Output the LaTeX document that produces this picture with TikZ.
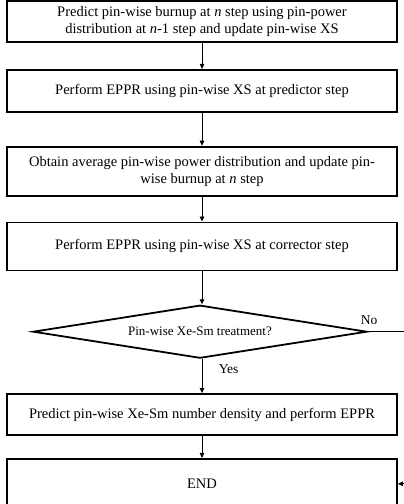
\documentclass[tikz,border=0pt]{standalone}
\usepackage{fontspec}
\setmainfont{Liberation Serif}
\usetikzlibrary{positioning,arrows.meta,shapes.geometric}

\begin{document}
\begin{tikzpicture}[
  font=\fontsize{14.5}{17}\selectfont,
  stepbox/.style={draw, line width=1.8pt, minimum width=390pt, inner sep=2pt, align=center},
  decide/.style={draw, diamond, line width=1.8pt, minimum width=334pt, minimum height=53pt, inner sep=0pt, aspect=6},
  arr/.style={-{Triangle[length=5pt, width=4.5pt]}, line width=0.9pt},
  lbl/.style={font=\fontsize{13.5}{15}\selectfont},
  node distance=26pt]
\useasboundingbox (0,0) rectangle (404pt,-504pt);
% main line
\node[stepbox, minimum height=41pt] (pred) at (202pt,-21.5pt)
  {Predict pin-wise burnup at \textit{n} step using pin-power\\distribution at \textit{n}-1 step and update pin-wise XS};
\node[stepbox, minimum height=42pt, below=26pt of pred] (eppr1) {Perform EPPR using pin-wise XS at predictor step};
\node[stepbox, minimum height=49pt, below=33pt of eppr1] (avg)
  {Obtain average pin-wise power distribution and update pin-\\wise burnup at \textit{n} step};
\node[stepbox, minimum height=48pt, below=25pt of avg] (eppr2) {Perform EPPR using pin-wise XS at corrector step};
\node[decide, below=33pt of eppr2, xshift=-2pt] (chk) {\fontsize{13}{15}\selectfont Pin-wise Xe-Sm treatment?};
\node[stepbox, minimum height=41pt, below=34pt of chk, xshift=2pt] (xesm) {Predict pin-wise Xe-Sm number density and perform EPPR};
\node[stepbox, minimum height=50pt, below=22pt of xesm] (end) {END};
% bypass
\path (chk.east) ++(41pt,0) coordinate (noturn);
\draw[arr] (pred) -- (eppr1);
\draw[arr] (eppr1) -- (avg);
\draw[arr] (avg) -- (eppr2);
\draw[arr] (eppr2) -- (eppr2 |- chk.north);
\draw[arr] (xesm |- chk.south) -- node[lbl, right=13pt, pos=0.3]{Yes} (xesm);
\draw[arr] (xesm) -- (end);
\draw[arr] (chk.east) -- node[lbl, above=3pt, pos=0.03]{No} (noturn) |- (end.east);
\end{tikzpicture}
\end{document}
